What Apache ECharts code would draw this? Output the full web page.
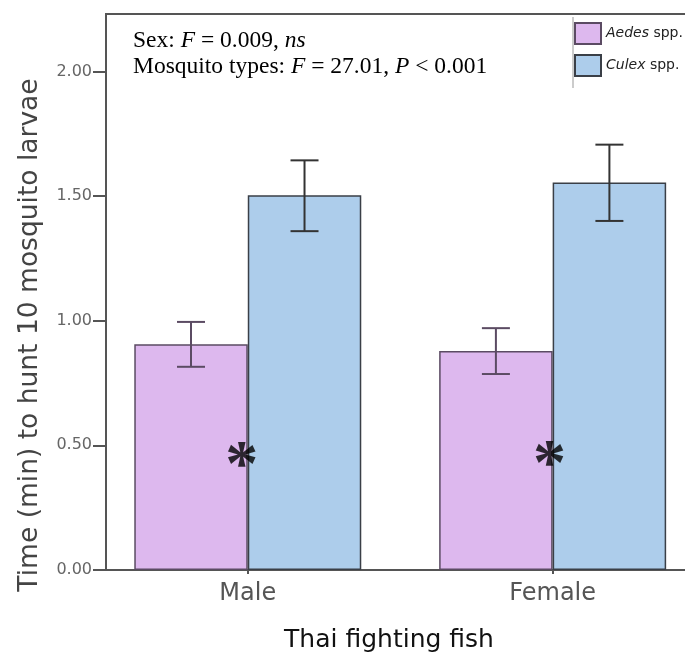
<!DOCTYPE html>
<html>
<head>
<meta charset="utf-8">
<script src="https://cdn.jsdelivr.net/npm/echarts@6/dist/echarts.min.js"></script>
<style>
  html, body { margin: 0; padding: 0; background: #fff; }
  #chart { width: 685px; height: 655px; }
</style>
</head>
<body>
<div id="chart"></div>
<script>
// groups on the x axis (1 = Male, 2 = Female)
const groups = ["Male", "Female"];
const groupPos = [1, 2];

// mean time (min) to hunt 10 larvae
const aedesMean = [0.905, 0.878];
const culexMean = [1.503, 1.554];

// error bar ends
const aedesLow = [0.815, 0.786];
const aedesHigh = [0.995, 0.970];
const culexLow = [1.359, 1.400];
const culexHigh = [1.643, 1.706];

// asterisks marking significance
const starPos = [0.98, 1.99];
const starVal = [0.476, 0.482];

const yTicks = [0, 0.5, 1, 1.5, 2];

const barWidth = 113.5;

const chart = echarts.init(document.getElementById("chart"));

function errorBar(offset, color) {
  return function (params, api) {
    const x = api.value(0);
    const top = api.coord([x, api.value(2)]);
    const bottom = api.coord([x, api.value(1)]);
    const cx = top[0] + offset;
    const half = 14;
    const style = { stroke: color, lineWidth: 2 };
    return {
      type: "group",
      children: [
        { type: "line", shape: { x1: cx, y1: top[1], x2: cx, y2: bottom[1] }, style: style },
        { type: "line", shape: { x1: cx - half, y1: top[1], x2: cx + half, y2: top[1] }, style: style },
        { type: "line", shape: { x1: cx - half, y1: bottom[1], x2: cx + half, y2: bottom[1] }, style: style }
      ]
    };
  };
}

chart.setOption({
  animation: false,
  backgroundColor: "#fff",
  grid: {
    left: 106,
    top: 14,
    width: 593,
    height: 556,
    outerBoundsMode: "none",
    containLabel: false,
    show: true,
    borderColor: "#555",
    borderWidth: 2
  },
  legend: {
    orient: "vertical",
    left: 574,
    top: 22,
    padding: 0,
    icon: "rect",
    itemWidth: 26,
    itemHeight: 21,
    itemGap: 9,
    data: ["Aedes", "Culex"],
    formatter: function (name) {
      return "{i|" + name + "} spp.";
    },
    textStyle: {
      fontFamily: "DejaVu Sans",
      fontSize: 14,
      color: "#222",
      rich: {
        i: { fontFamily: "DejaVu Sans", fontSize: 14, fontStyle: "italic", color: "#222" }
      }
    }
  },
  xAxis: {
    type: "value",
    min: 0.535,
    max: 2.48,
    splitLine: { show: false },
    axisLine: { show: true, lineStyle: { color: "#555", width: 2 } },
    axisTick: {
      show: true,
      customValues: groupPos,
      length: 4,
      lineStyle: { color: "#555", width: 2 }
    },
    axisLabel: {
      customValues: groupPos,
      formatter: function (v) {
        return groups[groupPos.indexOf(v)];
      },
      margin: 12,
      fontFamily: "DejaVu Sans",
      fontSize: 24,
      color: "#555"
    }
  },
  yAxis: {
    type: "value",
    min: 0,
    max: 2.23,
    interval: 0.5,
    splitLine: { show: false },
    axisLine: { show: true, lineStyle: { color: "#555", width: 2 } },
    axisTick: {
      show: true,
      customValues: yTicks,
      length: 13,
      lineStyle: { color: "#555", width: 2 }
    },
    axisLabel: {
      customValues: yTicks,
      formatter: function (v) {
        return v.toFixed(2);
      },
      margin: 14,
      fontFamily: "DejaVu Sans",
      fontSize: 16,
      color: "#666"
    }
  },
  graphic: [
    {
      type: "text",
      left: 133,
      top: 29,
      style: {
        text: "{n|Sex: }{i|F}{n| = 0.009, }{i|ns}\n{n|Mosquito types: }{i|F}{n| = 27.01, }{i|P}{n| < 0.001}",
        rich: {
          n: { fontFamily: "Liberation Serif", fontSize: 23.5, lineHeight: 26, fill: "#000" },
          i: { fontFamily: "Liberation Serif", fontSize: 23.5, lineHeight: 26, fontStyle: "italic", fill: "#000" }
        }
      }
    },
    {
      type: "text",
      x: 30,
      y: 335,
      rotation: Math.PI / 2,
      style: {
        text: "Time (min) to hunt 10 mosquito larvae",
        fontFamily: "DejaVu Sans",
        fontSize: 26.5,
        fill: "#444",
        align: "center",
        verticalAlign: "middle"
      }
    },
    {
      type: "text",
      x: 389,
      y: 640,
      style: {
        text: "Thai fighting fish",
        fontFamily: "DejaVu Sans",
        fontSize: 25,
        fill: "#111",
        align: "center",
        verticalAlign: "middle"
      }
    },
    {
      type: "line",
      shape: { x1: 573, y1: 17, x2: 573, y2: 88 },
      style: { stroke: "#999", lineWidth: 1 }
    }
  ],
  series: [
    {
      name: "Aedes",
      type: "bar",
      barWidth: barWidth,
      barGap: "0%",
      data: groupPos.map((x, i) => [x, aedesMean[i]]),
      itemStyle: { color: "#DDB8EE", borderColor: "#5b4b63", borderWidth: 1.5 }
    },
    {
      name: "Culex",
      type: "bar",
      barWidth: barWidth,
      barGap: "0%",
      data: groupPos.map((x, i) => [x, culexMean[i]]),
      itemStyle: { color: "#ADCDEB", borderColor: "#3a3f47", borderWidth: 1.5 }
    },
    {
      type: "custom",
      renderItem: errorBar(-barWidth / 2, "#5b4b63"),
      data: groupPos.map((x, i) => [x, aedesLow[i], aedesHigh[i]]),
      z: 5
    },
    {
      type: "custom",
      renderItem: errorBar(barWidth / 2, "#333"),
      data: groupPos.map((x, i) => [x, culexLow[i], culexHigh[i]]),
      z: 5
    },
    {
      type: "scatter",
      symbolSize: 0,
      data: starPos.map((x, i) => [x, starVal[i]]),
      label: {
        show: true,
        position: "inside",
        formatter: "*",
        fontFamily: "Liberation Serif",
        fontWeight: "bold",
        fontSize: 66,
        color: "#000",
        offset: [0, 17]
      },
      z: 6
    }
  ]
});
</script>
</body>
</html>
